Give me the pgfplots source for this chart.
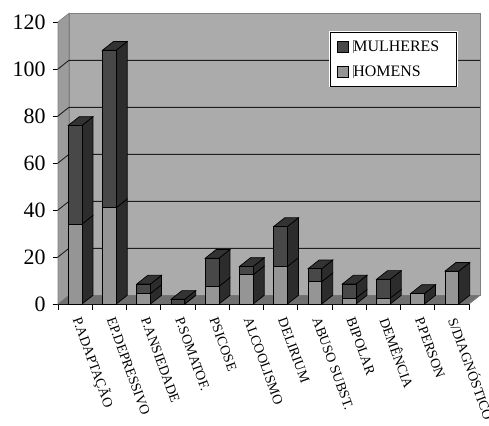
\documentclass[border=0pt]{standalone}
\usepackage{fontspec}
\usepackage{pgfplots}
\usepackage{pgfplotstable}
\pgfplotsset{compat=1.18}
\setmainfont{Liberation Serif}

\definecolor{backwall}{HTML}{ABABAB}
\definecolor{sidewall}{HTML}{9C9C9C}
\definecolor{floorc}{HTML}{707070}
\definecolor{wallline}{HTML}{808080}
\definecolor{gridc}{HTML}{1E1E1E}
\definecolor{mulheresc}{HTML}{484848}
\definecolor{homensc}{HTML}{959595}
\definecolor{sidec}{HTML}{2C2C2C}
\definecolor{topc}{HTML}{333333}

% cases per diagnosis, by sex
\pgfplotstableread{
idx H    M
0   34   42
1   41   67
2   4.5  4
3   0    2
4   7.5  12
5   12.5 3.5
6   16   17
7   9.5  5.5
8   2.5  6
9   2.5  8
10  4.5  0
11  14   0
}\diagtable

% oblique depth of the 3D box, in data units
\def\dpx{0.321}
\def\dpy{3.7}
\def\hw{0.2}

\pgfplotsset{
  chartbase/.style={
    at={(58bp,121bp)}, anchor=south west,
    scale only axis, width=411bp, height=282bp,
    xmin=-0.5, xmax=11.5, ymin=0, ymax=120,
    clip=false,
  },
}

\begin{document}
\begin{tikzpicture}[x=1bp,y=1bp]
\path[use as bounding box] (0,0) rectangle (489,425);

% walls, floor, grid and axes
\begin{axis}[chartbase,
  axis lines=left,
  axis line style={-},
  x axis line style={black,line width=0.9pt},
  y axis line style={wallline,line width=0.9pt},
  tick style={black,line width=0.8pt},
  major tick length=5.5bp,
  tick align=outside,
  ytick={0,20,...,120},
  xtick={-0.5,0.5,...,11.5},
  xticklabels={},
  extra x ticks={0,...,11},
  extra x tick labels={P.ADAPTAÇÃO,EP.DEPRESSIVO,P.ANSIEDADE,P.SOMATOF.,PSICOSE,ALCOOLISMO,DELIRIUM,ABUSO SUBST.,BIPOLAR,DEMÊNCIA,P.PERSON,S/DIAGNÓSTICO},
  extra x tick style={
    major tick length=0pt,
    tick label style={
      font=\fontsize{14}{16}\selectfont,
      rotate=-70, anchor=west, xshift=13.6bp, yshift=-3.4bp, inner sep=0pt,
    },
  },
  yticklabel style={font=\fontsize{22}{24}\selectfont,xshift=-3.5bp},
  /pgf/number format/assume math mode=true,
]
\addplot[fill=backwall,draw=wallline,line width=0.7pt] coordinates
  {(-0.179,3.7) (11.821,3.7) (11.821,123.7) (-0.179,123.7)} -- cycle;
\addplot[fill=sidewall,draw=wallline,line width=0.7pt] coordinates
  {(-0.5,0) (-0.179,3.7) (-0.179,123.7) (-0.5,120)} -- cycle;
\addplot[fill=floorc,draw=none] coordinates
  {(-0.5,0) (11.5,0) (11.821,3.7) (-0.179,3.7)} -- cycle;
\pgfplotsinvokeforeach{20,40,...,100}{
  \addplot[gridc,line width=0.9pt] coordinates {(-0.5,#1) (-0.179,#1+3.7) (11.821,#1+3.7)};
}
\addplot[wallline,line width=0.8pt] coordinates {(11.5,0) (11.821,3.7)};
\end{axis}

% side and top faces of the boxes
\begin{axis}[chartbase,hide axis]
\pgfplotsinvokeforeach{0,...,11}{
  \pgfplotstablegetelem{#1}{H}\of\diagtable \let\valH\pgfplotsretval
  \pgfplotstablegetelem{#1}{M}\of\diagtable \let\valM\pgfplotsretval
  \pgfmathsetmacro{\xL}{#1-\hw}
  \pgfmathsetmacro{\xR}{#1+\hw}
  \pgfmathsetmacro{\xLb}{\xL+\dpx}
  \pgfmathsetmacro{\xRb}{\xR+\dpx}
  \pgfmathsetmacro{\yH}{\valH}
  \pgfmathsetmacro{\yT}{\valH+\valM}
  \pgfmathsetmacro{\yHb}{\yH+\dpy}
  \pgfmathsetmacro{\yTb}{\yT+\dpy}
  \edef\facecmds{%
    \noexpand\addplot[fill=sidec,draw=black,line width=0.7pt] coordinates
      {(\xR,0) (\xRb,\dpy) (\xRb,\yHb) (\xR,\yH)} -- cycle;
    \noexpand\addplot[fill=sidec,draw=black,line width=0.7pt] coordinates
      {(\xR,\yH) (\xRb,\yHb) (\xRb,\yTb) (\xR,\yT)} -- cycle;
    \noexpand\addplot[fill=topc,draw=black,line width=0.7pt] coordinates
      {(\xL,\yT) (\xR,\yT) (\xRb,\yTb) (\xLb,\yTb)} -- cycle;
  }
  \facecmds
}
\end{axis}

% front faces, stacked, and the legend
\begin{axis}[chartbase,hide axis,
  ybar stacked, bar width=13.7bp,
  legend image code/.code={\draw[#1] (0bp,-5.5bp) rectangle (11bp,5.5bp);},
  legend style={
    at={(axis description cs:0.662,0.965)}, anchor=north west,
    fill=white, draw=white, double=black, line width=1.1pt, double distance=0.6pt,
    font=\fontsize{16}{18}\selectfont,
    row sep=8.5bp, inner xsep=6bp, inner ysep=6bp,
    cells={anchor=west},
  },
]
\addlegendimage{fill=mulheresc,draw=black,line width=0.7pt}
\addlegendentry{\rule{2.5bp}{0bp}\textcolor{gray}{\rule[-1.5bp]{0.6bp}{12.5bp}}MULHERES\rule{9bp}{0bp}}
\addlegendimage{fill=homensc,draw=black,line width=0.7pt}
\addlegendentry{\rule{2.5bp}{0bp}\textcolor{gray}{\rule[-1.5bp]{0.6bp}{12.5bp}}HOMENS}
\addplot[forget plot,fill=homensc,draw=black,line width=0.7pt] table[x=idx,y=H] {\diagtable};
\addplot[forget plot,fill=mulheresc,draw=black,line width=0.7pt] table[x=idx,y=M] {\diagtable};
\end{axis}
\end{tikzpicture}
\end{document}
